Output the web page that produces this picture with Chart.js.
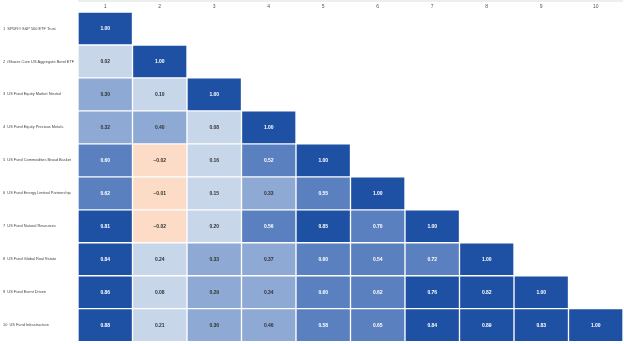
<!DOCTYPE html>
<html><head><meta charset="utf-8">
<script src="https://cdn.jsdelivr.net/npm/chart.js@4/dist/chart.umd.min.js"></script>
<style>html,body{margin:0;padding:0;background:#fff}#wrap{width:624px;height:344px;position:relative}</style>
</head><body><div id="wrap"><canvas id="c"></canvas></div>
<script>
const columns = ['1','2','3','4','5','6','7','8','9','10'];
const rowNames = [
  '1  SPDR® S&P 500 ETF Trust',
  '2  iShares Core US Aggregate Bond ETF',
  '3  US Fund Equity Market Neutral',
  '4  US Fund Equity Precious Metals',
  '5  US Fund Commodities Broad Basket',
  '6  US Fund Energy Limited Partnership',
  '7  US Fund Natural Resources',
  '8  US Fund Global Real Estate',
  '9  US Fund Event Driven',
  '10  US Fund Infrastructure'
];
const corr = [
  [1.00],
  [0.02, 1.00],
  [0.30, 0.10, 1.00],
  [0.32, 0.40, 0.08, 1.00],
  [0.60, -0.02, 0.16, 0.52, 1.00],
  [0.62, -0.01, 0.15, 0.33, 0.55, 1.00],
  [0.81, -0.02, 0.20, 0.56, 0.85, 0.70, 1.00],
  [0.84, 0.24, 0.33, 0.37, 0.60, 0.54, 0.72, 1.00],
  [0.86, 0.08, 0.29, 0.34, 0.60, 0.62, 0.76, 0.82, 1.00],
  [0.88, 0.21, 0.36, 0.46, 0.58, 0.65, 0.84, 0.89, 0.83, 1.00]
];

function cellColor(v){
  if (v < 0) return '#fcdcc6';
  if (v < 0.25) return '#c8d6ea';
  if (v < 0.5) return '#8eaad4';
  if (v < 0.75) return '#5a80bf';
  return '#1e51a4';
}
function textColor(v){ return (v >= 0.5) ? '#ffffff' : '#333333'; }

const datasets = corr.map((row, i) => ({
  label: rowNames[i],
  data: columns.map((c, j) => j < row.length ? [i, i + 1] : null),
  values: columns.map((c, j) => j < row.length ? row[j] : null),
  backgroundColor: columns.map((c, j) => j < row.length ? cellColor(row[j]) : 'transparent'),
  borderColor: 'rgba(255,255,255,0.7)',
  borderWidth: 1,
  borderSkipped: false,
  barPercentage: 1,
  categoryPercentage: 1
}));

const labelPlugin = {
  id: 'cellLabels',
  afterDatasetsDraw(chart){
    const ctx = chart.ctx;
    ctx.save();
    ctx.font = 'bold 5px "Liberation Sans", Arial, sans-serif';
    ctx.textAlign = 'center';
    ctx.textBaseline = 'middle';
    chart.data.datasets.forEach((ds, i) => {
      const meta = chart.getDatasetMeta(i);
      meta.data.forEach((el, j) => {
        const v = ds.values[j];
        if (v === null || v === undefined) return;
        const p = el.getCenterPoint();
        ctx.fillStyle = textColor(v);
        ctx.fillText(v < 0 ? '\u22120.' + Math.abs(v).toFixed(2).split('.')[1] : v.toFixed(2), p.x, p.y);
      });
    });
    ctx.restore();
  },
  beforeDraw(chart){
    const ctx = chart.ctx, a = chart.chartArea;
    ctx.save();
    ctx.fillStyle = '#eeeeee';
    ctx.fillRect(a.left, 0, a.right - a.left, 2);
    ctx.restore();
  }
};

new Chart(document.getElementById('c'), {
  type: 'bar',
  data: { labels: columns, datasets },
  plugins: [labelPlugin],
  options: {
    responsive: true,
    maintainAspectRatio: false,
    animation: false,
    layout: { padding: { left: 3, right: 1, top: 2, bottom: 2 } },
    plugins: { legend: { display: false }, tooltip: { enabled: false } },
    scales: {
      x: {
        position: 'top',
        stacked: true,
        grid: { display: false, drawTicks: false },
        border: { display: false },
        ticks: { color: '#555', font: { size: 5, family: 'Liberation Sans' }, padding: 2 }
      },
      y: {
        type: 'linear',
        reverse: true,
        min: 0, max: 10,
        grid: { display: false, drawTicks: false },
        border: { display: false },
        afterBuildTicks: (axis) => { axis.ticks = rowNames.map((n, i) => ({ value: i + 0.5 })); },
        afterFit: (axis) => { axis.width = 75; },
        ticks: {
          crossAlign: 'far',
          padding: 0,
          color: '#444',
          font: { size: 3.9, family: '"Liberation Sans", sans-serif' },
          callback: (v) => rowNames[Math.round(v - 0.5)]
        }
      }
    }
  }
});
</script></body></html>
